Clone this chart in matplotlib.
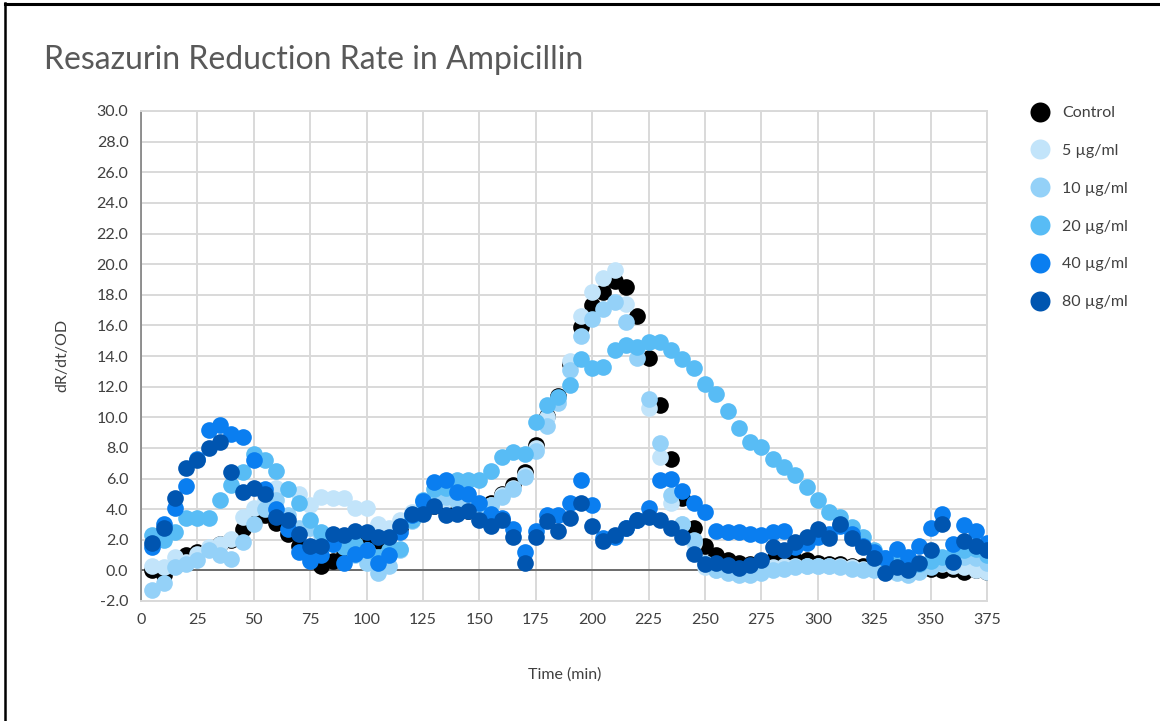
import matplotlib.pyplot as plt
from matplotlib.lines import Line2D
from matplotlib.ticker import FormatStrFormatter

plt.rcParams['font.family'] = ['Lato', 'DejaVu Sans']
plt.rcParams['axes.unicode_minus'] = False

# sampling times (min)
time = list(range(5, 380, 5))

control = [0.0, -0.3, 0.3, 1.0, 1.2, 1.4, 1.7, 2.0, 2.7, 3.2,
           3.6, 3.1, 2.4, 1.6, 0.9, 0.3, 0.6, 1.1, 1.8, 1.6,
           1.9, 2.3, 2.8, 3.3, 3.8, 4.2, 4.3, 4.0, 3.9, 4.1,
           4.4, 5.0, 5.6, 6.4, 8.2, 10.1, 11.4, 13.5, 15.9, 17.3,
           18.2, 18.9, 18.5, 16.6, 13.9, 10.8, 7.3, 4.7, 2.8, 1.6,
           1.0, 0.7, 0.5, 0.4, 0.5, 0.7, 0.8, 0.7, 0.7, 0.5,
           0.4, 0.4, 0.3, 0.3, 0.2, 0.1, 0.1, 0.0, 0.1, 0.1,
           0.0, 0.1, -0.1, 0.0, -0.1]

amp_5 = [0.3, 0.2, 0.9, 0.55, 1.1, 1.5, 1.75, 2.05, 3.5, 4.1,
         4.6, 5.4, 5.3, 5.0, 4.3, 4.8, 4.7, 4.7, 4.1, 4.1,
         3.0, 2.8, 3.3, 3.8, 4.2, 4.4, 4.6, 4.5, 4.6, 4.0,
         4.3, 4.9, 5.4, 6.2, 8.0, 10.0, 11.2, 13.7, 16.6, 18.2,
         19.1, 19.6, 17.4, 14.5, 10.6, 7.4, 4.4, 3.0, 1.8, 0.2,
         0.0, -0.1, -0.2, -0.1, 0.0, 0.2, 0.3, 0.3, 0.3, 0.3,
         0.3, 0.3, 0.2, 0.1, 0.1, 0.0, -0.1, 0.0, 0.1, 0.3,
         0.4, 0.3, 0.2, 0.0, -0.1]

amp_10 = [-1.3, -0.8, 0.2, 0.4, 0.65, 1.3, 1.0, 0.75, 1.85, 3.05,
          4.0, 4.6, 3.6, 2.8, 2.8, 2.3, 2.0, 1.6, 1.0, 0.5,
          -0.2, 0.3, 1.3, 3.2, 4.0, 4.6, 4.8, 4.5, 4.0, 3.9,
          4.3, 4.8, 5.3, 6.1, 7.8, 9.4, 10.9, 13.1, 15.3, 16.4,
          17.1, 17.5, 16.2, 13.9, 11.2, 8.3, 4.9, 3.0, 2.0, 0.5,
          0.0, -0.2, -0.3, -0.3, -0.2, 0.0, 0.1, 0.2, 0.3, 0.3,
          0.3, 0.2, 0.1, 0.0, 0.0, -0.1, -0.2, -0.3, -0.1, 0.2,
          0.5, 0.8, 0.9, 0.8, 0.5]

amp_20 = [2.3, 2.0, 2.5, 3.4, 3.4, 3.4, 4.6, 5.6, 6.4, 7.6,
          7.2, 6.5, 5.3, 4.4, 3.3, 2.5, 1.7, 1.5, 1.7, 1.3,
          0.9, 1.3, 1.4, 3.3, 4.6, 5.3, 5.4, 5.9, 5.9, 5.9,
          6.5, 7.4, 7.7, 7.6, 9.7, 10.8, 11.3, 12.1, 13.8, 13.2,
          13.3, 14.4, 14.7, 14.6, 14.9, 14.9, 14.4, 13.8, 13.2, 12.2,
          11.5, 10.4, 9.3, 8.4, 8.05, 7.3, 6.75, 6.2, 5.45, 4.6,
          3.8, 3.5, 2.85, 2.2, 1.3, 0.8, 0.5, 0.3, 0.4, 0.6,
          0.9, 1.0, 1.3, 1.4, 1.0]

amp_40 = [1.5, 3.0, 4.1, 5.5, 7.3, 9.2, 9.5, 8.9, 8.7, 7.2,
          5.3, 4.0, 2.7, 1.2, 0.6, 1.0, 1.7, 0.5, 1.1, 1.3,
          0.5, 1.0, 2.5, 3.6, 4.5, 5.8, 5.9, 5.1, 5.0, 4.4,
          3.7, 3.4, 2.7, 1.2, 2.6, 3.6, 3.6, 4.4, 5.9, 4.3,
          2.1, 2.2, 2.8, 3.3, 4.1, 5.9, 6.0, 5.2, 4.4, 3.8,
          2.6, 2.5, 2.5, 2.4, 2.3, 2.5, 2.6, 1.5, 1.8, 2.2,
          2.4, 2.9, 2.4, 1.6, 1.2, 0.8, 1.4, 0.9, 1.6, 2.8,
          3.7, 1.75, 2.95, 2.6, 1.8]

amp_80 = [1.8, 2.8, 4.7, 6.7, 7.2, 8.0, 8.4, 6.4, 5.1, 5.4,
          5.0, 3.5, 3.3, 2.4, 1.6, 1.6, 2.4, 2.3, 2.6, 2.5,
          2.2, 2.2, 2.9, 3.7, 3.7, 4.2, 3.6, 3.7, 3.9, 3.3,
          2.9, 3.3, 2.2, 0.5, 2.2, 3.2, 2.6, 3.4, 4.4, 2.9,
          1.9, 2.3, 2.8, 3.3, 3.5, 3.3, 2.8, 2.2, 1.1, 0.4,
          0.45, 0.35, 0.15, 0.35, 0.65, 1.5, 1.3, 1.85, 2.2, 2.7,
          2.1, 3.0, 2.1, 1.5, 0.8, -0.2, 0.2, 0.0, 0.45, 1.3,
          3.05, 0.55, 1.95, 1.6, 1.3]

labels = ['Control', '5 µg/ml', '10 µg/ml', '20 µg/ml', '40 µg/ml', '80 µg/ml']
colors = ['#000000', '#C2E4FA', '#94D1F8', '#58BCF5', '#0A7EF0', '#0055B0']
series = [control, amp_5, amp_10, amp_20, amp_40, amp_80]

W, H = 1160, 721
fig = plt.figure(figsize=(W / 100, H / 100), dpi=100)
ax = fig.add_axes([141 / W, 1 - 601 / H, (987 - 141) / W, (601 - 111) / H])

for vals, c, lab in zip(series, colors, labels):
    ax.plot(time, vals, 'o', ms=12, mec='none', color=c, label=lab, zorder=3)

ax.axhline(0, color='#595959', lw=1.2, zorder=2)

ax.set_xlim(0, 375)
ax.set_ylim(-2, 30)
ax.set_xticks(range(0, 376, 25))
ax.set_yticks(range(-2, 31, 2))
ax.yaxis.set_major_formatter(FormatStrFormatter('%.1f'))
ax.grid(color='#D9D9D9', lw=1.4)
ax.set_axisbelow(True)
for side in ['top', 'right', 'bottom']:
    ax.spines[side].set_color('#D9D9D9')
    ax.spines[side].set_linewidth(1.4)
ax.spines['left'].set_color('#7F7F7F')
ax.spines['left'].set_linewidth(1.2)
ax.tick_params(length=0, labelsize=11.5, colors='#404040')
ax.tick_params(axis='y', pad=9)
ax.tick_params(axis='x', pad=9)

fig.text(44 / W, 1 - 60 / H, 'Resazurin Reduction Rate in Ampicillin',
         fontsize=23, color='#595959', va='center', ha='left')
fig.text(62 / W, 1 - 355 / H, 'dR/dt/OD', rotation=90, fontsize=11.5,
         color='#404040', va='center', ha='center')
fig.text(565 / W, 1 - 675 / H, 'Time (min)', fontsize=11.5,
         color='#404040', va='center', ha='center')

ax.legend(loc='upper left', bbox_to_anchor=(1032 / W, 1 - 106 / H),
          bbox_transform=fig.transFigure, frameon=False, fontsize=11.5,
          handlelength=1.0, handletextpad=0.875, labelspacing=1.48,
          markerscale=1.2, borderpad=0, borderaxespad=0, labelcolor='#404040')

# outer frame
fig.add_artist(Line2D([4.5 / W, 4.5 / W], [0, 1 - 3 / H], color='black', lw=1.8))
fig.add_artist(Line2D([4.5 / W, 1], [1 - 3.5 / H, 1 - 3.5 / H], color='black', lw=2.2))

fig.savefig('out.png', dpi=100)
